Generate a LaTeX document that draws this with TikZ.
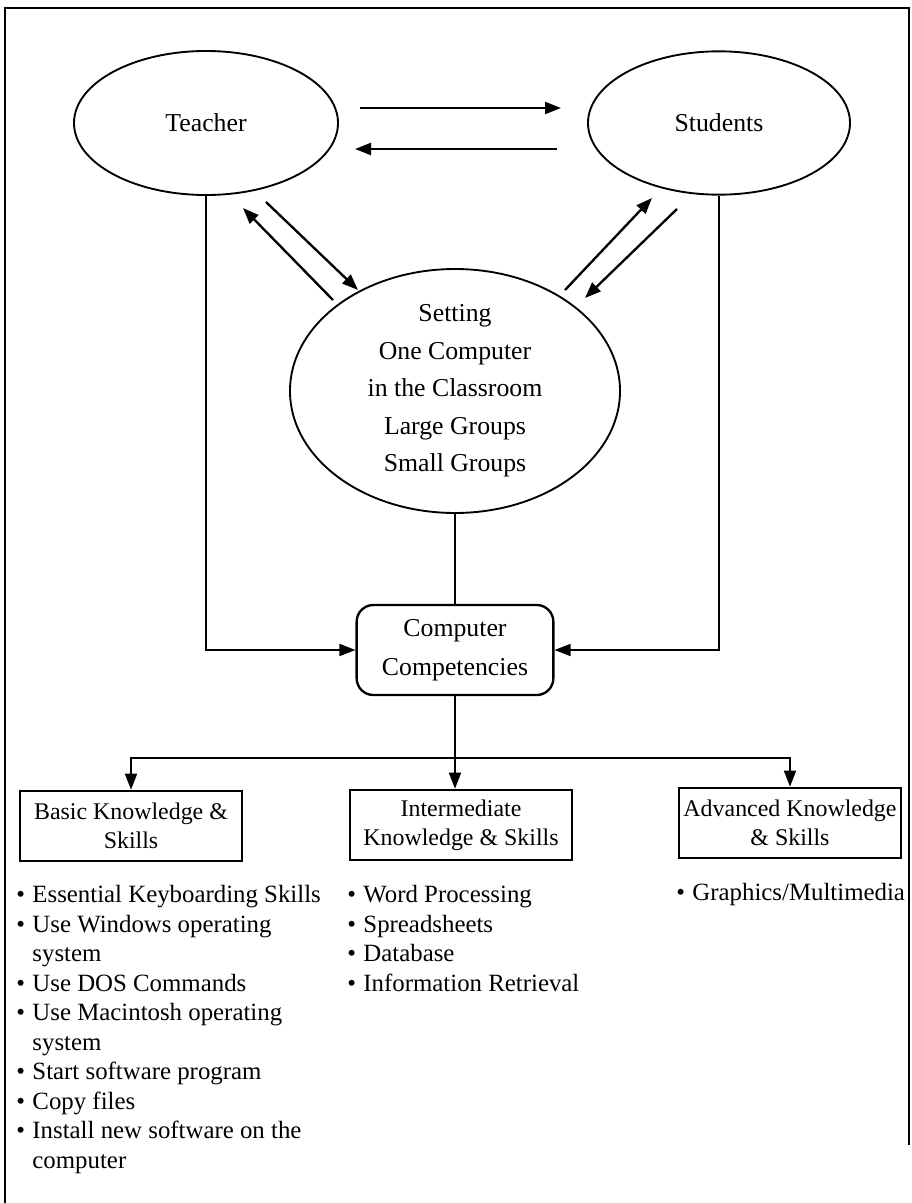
\documentclass[tikz,border=0pt]{standalone}
\usepackage{fontspec}
\setmainfont{Liberation Serif}
\usetikzlibrary{shapes.geometric,arrows.meta}

\newcommand\bul{\makebox[0.24cm][l]{\textbullet}}
\newcommand\cont{\hspace*{0.24cm}}

\begin{document}
\begin{tikzpicture}[
    x=0.015cm, y=-0.015cm,
    bubble/.style={ellipse, draw, line width=0.8pt, inner sep=0pt, align=center, font=\fontsize{11}{13}\selectfont},
    hub/.style={bubble, font=\fontsize{11}{16}\selectfont},
    competency/.style={rectangle, draw, line width=1pt, rounded corners=0.25cm, align=center, inner sep=0pt, minimum width=2.95cm, minimum height=1.35cm, font=\fontsize{11}{16.6}\selectfont},
    tier/.style={rectangle, draw, line width=1.1pt, align=center, inner sep=0pt, minimum width=3.33cm, minimum height=1.05cm, font=\fontsize{10.2}{12.4}\selectfont},
    skills/.style={anchor=north west, align=left, inner sep=0pt, font=\fontsize{10.6}{12.6}\selectfont},
    arrow/.style={-{Triangle[length=0.24cm,width=0.18cm]}, line width=1pt},
    link/.style={-{Triangle[length=0.24cm,width=0.18cm]}, line width=0.7pt},
    outline/.style={line width=1pt}
]
\useasboundingbox (0,0) rectangle (912,1203);

% Frame
\draw[outline] (5,1203) -- (5,8) -- (909,8) -- (909,1145);

% People and setting
\node[bubble, minimum width=3.96cm, minimum height=2.16cm] (teacher) at (206,123) {Teacher};
\node[bubble, minimum width=3.93cm, minimum height=2.15cm] (students) at (719,123) {Students};
\node[hub, minimum width=4.95cm, minimum height=3.27cm] (setting) at (455,391) {Setting\\One Computer\\in the Classroom\\Large Groups\\Small Groups};

% Competencies
\node[competency] (comp) at (455,650) {Computer\\Competencies};

% Levels
\node[tier] (basic) at (131,826) {Basic Knowledge \&\\Skills};
\node[tier] (inter) at (461,825) {Intermediate\\Knowledge \& Skills};
\node[tier] (adv) at (790,823) {Advanced Knowledge\\\& Skills};

% Skill lists
\node[skills] (basiclist) at (16,885) {\bul Essential Keyboarding Skills\\\bul Use Windows operating\\\cont system\\\bul Use DOS Commands\\\bul Use Macintosh operating\\\cont system\\\bul Start software program\\\bul Copy files\\\bul Install new software on the\\\cont computer};
\node[skills] (interlist) at (347,885) {\bul Word Processing\\\bul Spreadsheets\\\bul Database\\\bul Information Retrieval};
\node[skills] (advlist) at (676,883) {\bul Graphics/Multimedia};

% Teacher <-> Students
\draw[arrow] ([shift={(154,-15)}]teacher.center) -- ([shift={(-158,-15)}]students.center);
\draw[arrow] ([shift={(-162,26)}]students.center) -- ([shift={(149,26)}]teacher.center);

% Teacher <-> Setting
\draw[arrow] ([shift={(-122,-91)}]setting.center) -- ([shift={(37,85)}]teacher.center);
\draw[arrow] ([shift={(60,79)}]teacher.center) -- ([shift={(-97,-101)}]setting.center);

% Students <-> Setting
\draw[arrow] ([shift={(110,-101)}]setting.center) -- ([shift={(-67,75)}]students.center);
\draw[arrow] ([shift={(-42,86)}]students.center) -- ([shift={(130,-93)}]setting.center);

% Into competencies
\draw[link] (teacher) |- (comp);
\draw[link] (students) |- (comp);
\draw[line width=0.7pt] (setting) -- (comp);

% Out to levels
\coordinate (split) at (455,758);
\draw[line width=0.7pt] (comp) -- (split);
\draw[link] (split) -| (basic);
\draw[link] (split) -- (split |- inter.north);
\draw[link] (split) -| (adv);

\end{tikzpicture}
\end{document}
